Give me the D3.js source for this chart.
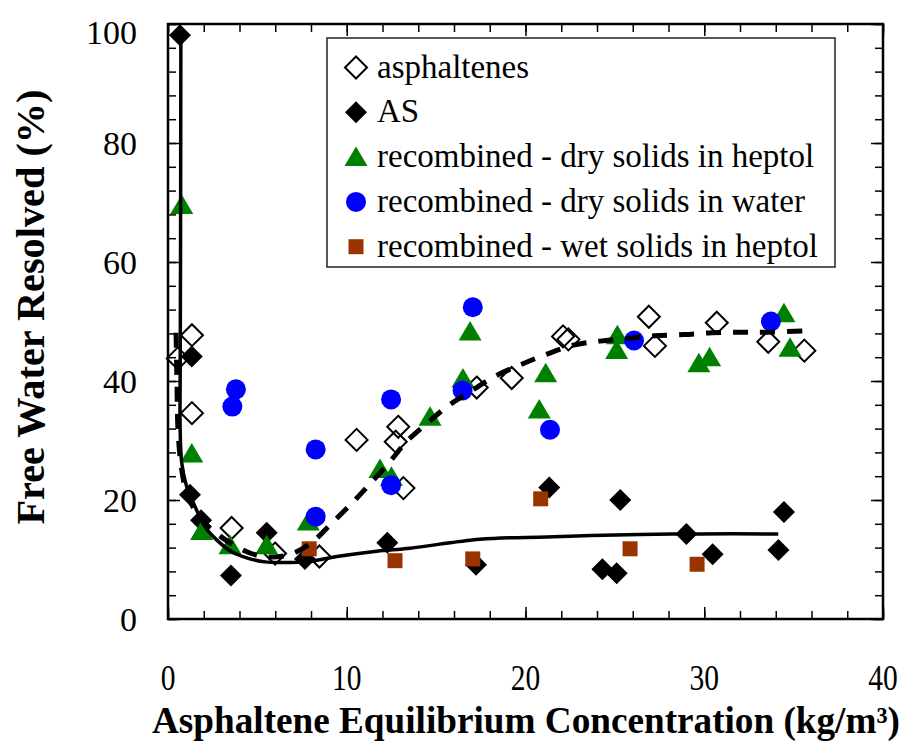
<!DOCTYPE html>
<html>
<head>
<meta charset="utf-8">
<script src="https://cdn.jsdelivr.net/npm/d3@7"></script>
<style>
  body { margin: 0; background: #fff; }
  svg { display: block; font-family: 'Liberation Serif', 'Times New Roman', serif; }
</style>
</head>
<body>
<svg id="chart"></svg>
<script>
// asphaltenes (open diamonds)
const asphX = [0.55, 1.34, 1.34, 3.56, 5.99, 8.47, 10.55, 12.88, 12.74, 13.17, 17.27, 19.23, 22.1, 22.4, 26.9, 27.24, 30.7, 33.58, 35.6]
const asphY = [43.8, 47.7, 34.6, 15.3, 11.0, 10.5, 30.1, 32.3, 29.8, 22.0, 38.9, 40.5, 47.5, 47.0, 50.8, 45.9, 49.8, 46.6, 45.1]

// AS (filled diamonds)
const asX = [0.67, 1.33, 1.23, 1.85, 3.52, 5.52, 7.66, 12.27, 17.23, 21.33, 24.3, 25.1, 25.3, 29.0, 30.47, 34.15, 34.46]
const asY = [98.1, 44.1, 20.9, 16.6, 7.3, 14.5, 10.1, 12.8, 9.1, 22.1, 8.35, 7.7, 20.0, 14.3, 10.9, 11.6, 18.0]

// recombined - dry solids in heptol (triangles)
const dryHeptolX = [0.77, 1.33, 1.88, 3.47, 5.52, 7.85, 11.86, 12.5, 14.66, 16.5, 16.9, 20.77, 21.13, 25.1, 25.14, 29.7, 30.3, 34.46, 34.8]
const dryHeptolY = [69.6, 27.8, 14.8, 12.4, 12.4, 16.4, 25.2, 23.9, 34.0, 40.4, 48.3, 35.2, 41.3, 45.2, 47.7, 43.0, 44.0, 51.4, 45.6]

// recombined - dry solids in water (circles)
const dryWaterX = [3.6, 3.8, 8.26, 8.26, 12.48, 12.48, 16.48, 17.05, 21.37, 26.07, 33.73]
const dryWaterY = [35.7, 38.6, 28.5, 17.2, 36.9, 22.5, 38.4, 52.4, 31.8, 46.8, 50.0]

// recombined - wet solids in heptol (squares)
const wetHeptolX = [7.9, 12.7, 17.05, 20.85, 25.85, 29.6]
const wetHeptolY = [11.8, 9.8, 10.1, 20.2, 11.8, 9.2]

// fit curve for AS (solid)
const fitASX = [0.72, 0.70, 0.68, 0.68, 0.77, 1.05, 1.51, 2.07, 2.72, 3.56, 4.49, 5.43, 6.45, 7.76, 9.44, 11.68, 13.54, 17.45, 21.19, 26.4, 29.76, 34.14]
const fitASY = [98, 60, 40, 31.8, 26.2, 22.2, 18.9, 15.5, 13.3, 11.3, 10.2, 9.6, 9.5, 9.6, 10.5, 11.4, 11.9, 13.4, 13.8, 14.2, 14.3, 14.3]

// fit curve for asphaltenes (dashed)
const fitAsphX = [0.45, 0.5, 0.56, 0.73, 1.0, 1.5, 2.2, 3.75, 5.15, 6.63, 7.94, 9.06, 10.3, 11.3, 12.4, 13.37, 14.5, 15.66, 16.95, 18.29, 19.7, 21.1, 22.77, 24.17, 25.85, 27.24, 28.87, 30.43, 32.0, 33.5, 35.5]
const fitAsphY = [48.1, 40.2, 31.8, 25.9, 21.7, 18.3, 15.7, 12.3, 10.6, 10.7, 12.6, 15.8, 19.5, 22.7, 26.4, 29.9, 32.9, 35.8, 38.3, 40.8, 42.7, 44.4, 46.1, 46.7, 47.2, 47.6, 47.8, 48.1, 48.2, 48.2, 48.4]

const xTicks = [0, 10, 20, 30, 40]
const yTicks = [0, 20, 40, 60, 80, 100]

const width = 906
const height = 742
const plot = { left: 168, right: 883, top: 24, bottom: 619 }

const svg = d3.select('#chart')
  .attr('width', width)
  .attr('height', height)

const x = d3.scaleLinear().domain([0, 40]).range([plot.left, plot.right])
const y = d3.scaleLinear().domain([0, 100]).range([plot.bottom, plot.top])

const zip = (xs, ys) => xs.map((v, i) => [v, ys[i]])

// marker shapes
const shapes = {
  diamond: 'M0,-11L11,0L0,11L-11,0Z',
  triangle: 'M0,-10.5L11.5,9L-11.5,9Z',
  square: 'M-7.5,-7.5H7.5V7.5H-7.5Z'
}

const series = [
  { name: 'asphaltenes', xs: asphX, ys: asphY, shape: 'diamond', fill: 'none', stroke: '#000' },
  { name: 'AS', xs: asX, ys: asY, shape: 'diamond', fill: '#000', stroke: 'none' },
  { name: 'recombined - dry solids in heptol', xs: dryHeptolX, ys: dryHeptolY, shape: 'triangle', fill: '#008000', stroke: 'none' },
  { name: 'recombined - dry solids in water', xs: dryWaterX, ys: dryWaterY, shape: 'circle', fill: '#0000ff', stroke: 'none' },
  { name: 'recombined - wet solids in heptol', xs: wetHeptolX, ys: wetHeptolY, shape: 'square', fill: '#993300', stroke: 'none' }
]

function drawMarker(sel, s) {
  if (s.shape === 'circle') {
    sel.append('circle').attr('r', 10).attr('fill', s.fill)
  } else {
    sel.append('path')
      .attr('d', shapes[s.shape])
      .attr('fill', s.fill)
      .attr('stroke', s.stroke)
      .attr('stroke-width', s.stroke === 'none' ? 0 : 2)
  }
}

// ticks (inward on all four sides)
function tickAxis(axis, transform, values, size) {
  svg.append('g')
    .attr('transform', transform)
    .call(axis.tickValues(values).tickSize(size).tickFormat(''))
    .call(g => g.select('.domain').remove())
    .call(g => g.selectAll('line').attr('stroke', '#000').attr('stroke-width', 1.5))
}
const xMinor = d3.range(0, 41, 2)
const yMinor = d3.range(0, 101, 4)
tickAxis(d3.axisBottom(x), `translate(0,${plot.bottom})`, xMinor, -8)
tickAxis(d3.axisBottom(x), `translate(0,${plot.bottom})`, xTicks, -12)
tickAxis(d3.axisTop(x), `translate(0,${plot.top})`, xMinor, -8)
tickAxis(d3.axisTop(x), `translate(0,${plot.top})`, xTicks, -12)
tickAxis(d3.axisLeft(y), `translate(${plot.left},0)`, yMinor, -8)
tickAxis(d3.axisLeft(y), `translate(${plot.left},0)`, yTicks, -12)
tickAxis(d3.axisRight(y), `translate(${plot.right},0)`, yMinor, -8)
tickAxis(d3.axisRight(y), `translate(${plot.right},0)`, yTicks, -12)

// tick labels
svg.append('g').selectAll('text')
  .data(xTicks)
  .enter()
  .append('text')
  .attr('transform', d => `translate(${x(d)},690) scale(0.82,1)`)
  .attr('text-anchor', 'middle')
  .attr('font-size', 36)
  .text(d => d)

svg.append('g').selectAll('text')
  .data(yTicks)
  .enter()
  .append('text')
  .attr('x', 137)
  .attr('y', d => Math.min(Math.max(y(d), 32), 627) + 12)
  .attr('text-anchor', 'end')
  .attr('font-size', 34)
  .text(d => d)

// axis titles
svg.append('text')
  .attr('x', 526)
  .attr('y', 733)
  .attr('text-anchor', 'middle')
  .attr('font-size', 37)
  .attr('font-weight', 'bold')
  .attr('textLength', 748)
  .attr('lengthAdjust', 'spacingAndGlyphs')
  .text('Asphaltene Equilibrium Concentration (kg/m³)')

svg.append('text')
  .attr('transform', 'translate(44,307) rotate(-90)')
  .attr('text-anchor', 'middle')
  .attr('font-size', 39)
  .attr('font-weight', 'bold')
  .attr('textLength', 435)
  .attr('lengthAdjust', 'spacingAndGlyphs')
  .text('Free Water Resolved (%)')

// data points
series.forEach(s => {
  svg.append('g')
    .selectAll('g')
    .data(zip(s.xs, s.ys))
    .enter()
    .append('g')
    .attr('transform', d => `translate(${x(d[0])},${y(d[1])})`)
    .each(function () { drawMarker(d3.select(this), s) })
})

// fit lines
const line = d3.line()
  .x(d => x(d[0]))
  .y(d => y(d[1]))
  .curve(d3.curveCatmullRom.alpha(0.5))

svg.append('path')
  .attr('d', line(zip(fitASX, fitASY)))
  .attr('fill', 'none')
  .attr('stroke', '#000')
  .attr('stroke-width', 3.5)

svg.append('path')
  .attr('d', line(zip(fitAsphX, fitAsphY)))
  .attr('fill', 'none')
  .attr('stroke', '#000')
  .attr('stroke-width', 5)
  .attr('stroke-dasharray', '15 12')

// frame
svg.append('rect')
  .attr('x', plot.left)
  .attr('y', plot.top)
  .attr('width', plot.right - plot.left)
  .attr('height', plot.bottom - plot.top)
  .attr('fill', 'none')
  .attr('stroke', '#000')
  .attr('stroke-width', 2.5)

// legend
const legend = svg.append('g')
legend.append('rect')
  .attr('x', 327)
  .attr('y', 38)
  .attr('width', 508)
  .attr('height', 229)
  .attr('fill', '#fff')
  .attr('stroke', '#222')
  .attr('stroke-width', 1.5)

const rows = legend.selectAll('g.row')
  .data(series)
  .enter()
  .append('g')
  .attr('class', 'row')
  .attr('transform', (d, i) => `translate(356,${67.5 + i * 44.8})`)

rows.each(function (s) { drawMarker(d3.select(this), s) })
rows.append('text')
  .attr('x', 21)
  .attr('y', 10)
  .attr('font-size', 33)
  .text(d => d.name)
</script>
</body>
</html>
